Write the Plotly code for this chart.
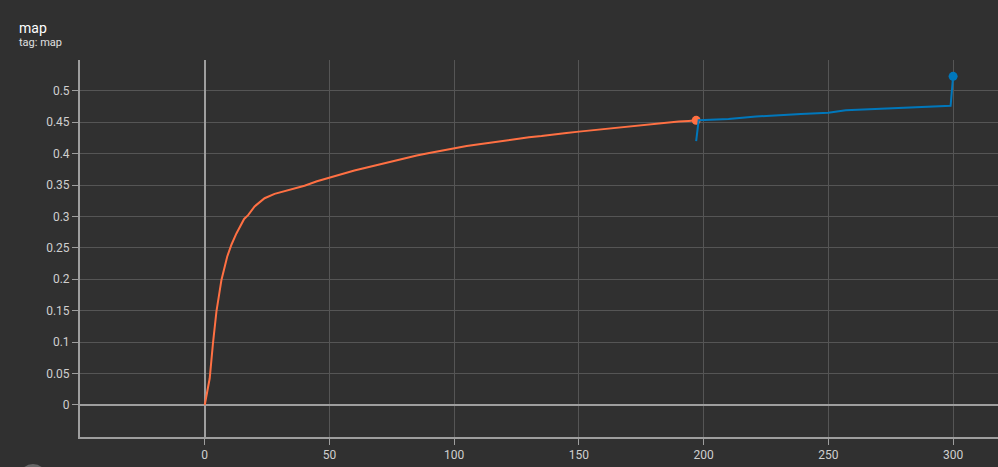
import plotly.graph_objects as go

# orange run (step, map)
orange_step = [0, 2, 3.3, 4.7, 6.7, 9, 10.7, 12.7, 15.8, 17.4, 20, 24, 28, 32, 40, 45, 50, 55, 60, 65, 70, 75, 80, 85, 90, 95, 100, 105, 110, 115, 120, 125, 130, 135, 140, 145, 150, 155, 160, 165, 170, 175, 180, 185, 190, 194, 197]
orange_map = [0.0, 0.0425, 0.098, 0.149, 0.199, 0.236, 0.255, 0.273, 0.296, 0.302, 0.316, 0.329, 0.336, 0.340, 0.349, 0.356, 0.362, 0.368, 0.373, 0.378, 0.383, 0.388, 0.392, 0.397, 0.401, 0.405, 0.409, 0.412, 0.415, 0.418, 0.421, 0.424, 0.426, 0.428, 0.431, 0.433, 0.435, 0.437, 0.439, 0.441, 0.443, 0.446, 0.448, 0.450, 0.451, 0.452, 0.453]

# blue run (step, map)
blue_step = [197, 198, 210, 221, 239, 250, 257, 275, 299, 300]
blue_map = [0.420, 0.453, 0.455, 0.459, 0.463, 0.465, 0.469, 0.4725, 0.476, 0.523]

x_ticks = [0, 50, 100, 150, 200, 250, 300]
y_ticks = [0, 0.05, 0.1, 0.15, 0.2, 0.25, 0.3, 0.35, 0.4, 0.45, 0.5]
y_labels = ["0", "0.05", "0.1", "0.15", "0.2", "0.25", "0.3", "0.35", "0.4", "0.45", "0.5"]

ORANGE = "#ff7043"
BLUE = "#0077bb"

fig = go.Figure()
fig.add_trace(go.Scatter(x=orange_step, y=orange_map, mode="lines",
                         line=dict(color=ORANGE, width=2), hoverinfo="skip"))
fig.add_trace(go.Scatter(x=[orange_step[-1]], y=[orange_map[-1]], mode="markers",
                         marker=dict(color=ORANGE, size=9), hoverinfo="skip"))
fig.add_trace(go.Scatter(x=blue_step, y=blue_map, mode="lines",
                         line=dict(color=BLUE, width=2), hoverinfo="skip"))
fig.add_trace(go.Scatter(x=[blue_step[-1]], y=[blue_map[-1]], mode="markers",
                         marker=dict(color=BLUE, size=9), hoverinfo="skip"))

fig.update_layout(
    width=998, height=467,
    margin=dict(l=80, r=0, t=60, b=30),
    paper_bgcolor="#303030", plot_bgcolor="#303030",
    showlegend=False,
    font=dict(family="Roboto", color="#cfcfcf", size=12),
    xaxis=dict(range=[-50, 318], tickvals=x_ticks, showgrid=True, gridcolor="#555555", gridwidth=1,
               zeroline=True, zerolinecolor="#9e9e9e", zerolinewidth=1.5,
               showline=True, linecolor="#9e9e9e", linewidth=2,
               ticks="outside", ticklen=6, tickcolor="#9e9e9e", tickfont=dict(size=12, color="#cfcfcf")),
    yaxis=dict(range=[-0.051, 0.549], tickvals=y_ticks, ticktext=y_labels, showgrid=True,
               gridcolor="#555555", gridwidth=1,
               zeroline=True, zerolinecolor="#9e9e9e", zerolinewidth=1.5,
               showline=True, linecolor="#9e9e9e", linewidth=2,
               ticks="outside", ticklen=6, tickcolor="#9e9e9e", tickfont=dict(size=12, color="#cfcfcf")),
    annotations=[
        dict(text="map", xref="paper", yref="paper", x=-63/918, y=1 + 32/377, xanchor="left", yanchor="middle",
             showarrow=False, font=dict(size=14, color="#ffffff", family="Roboto")),
        dict(text="tag: map", xref="paper", yref="paper", x=-63/918, y=1 + 17/377, xanchor="left", yanchor="middle",
             showarrow=False, font=dict(size=11, color="#e0e0e0", family="Roboto")),
    ],
    shapes=[
        dict(type="circle", xref="paper", yref="paper",
             x0=(19 - 80) / 918, x1=(47 - 80) / 918, y0=-(478 - 437 + 14) / 377, y1=-(478 - 437 - 14) / 377,
             fillcolor="#666666", line=dict(width=0)),
    ],
)

fig.write_html("out.html", config={"displayModeBar": False},
               post_script="document.body.style.margin='0';document.body.style.overflow='hidden';document.body.style.background='#303030';")
